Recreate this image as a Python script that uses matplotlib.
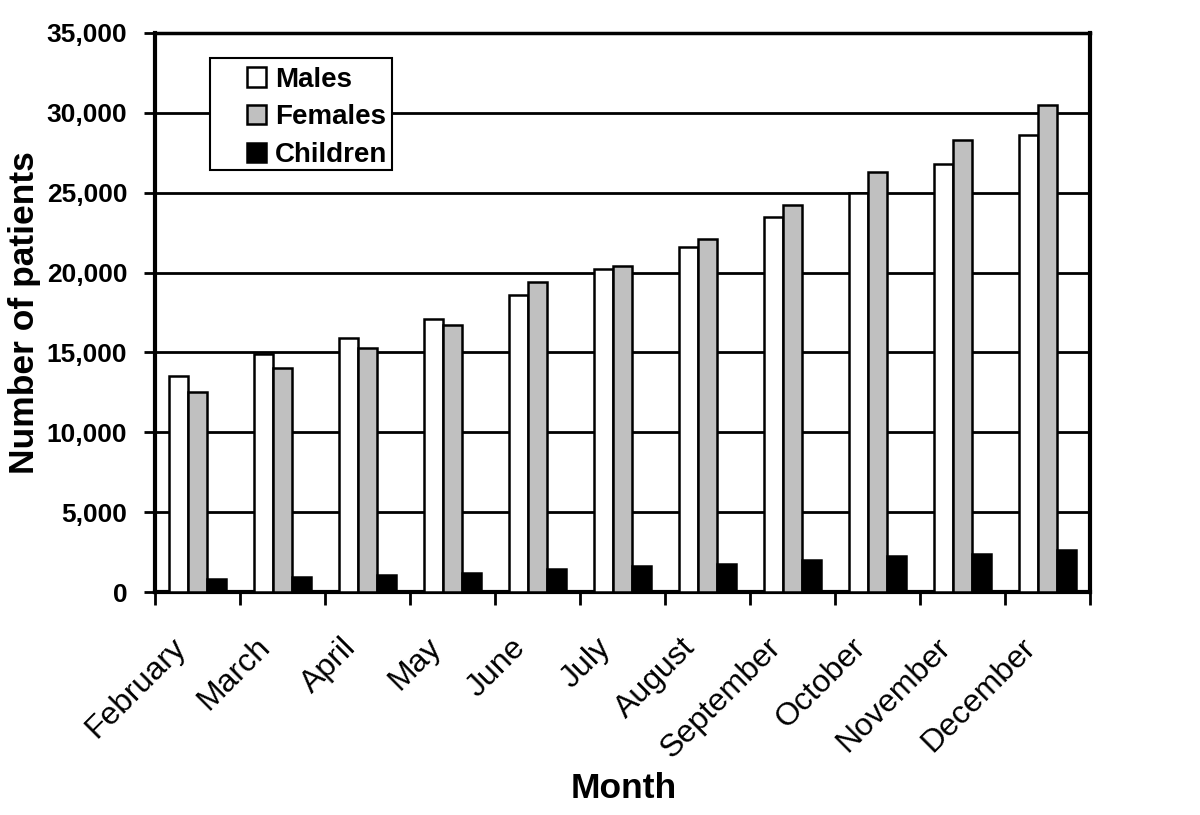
import matplotlib
matplotlib.use("Agg")
import matplotlib.pyplot as plt
import matplotlib.transforms as mtransforms
from matplotlib.patches import Rectangle
import numpy as np
from matplotlib.ticker import FuncFormatter, FixedLocator

months = ["February", "March", "April", "May", "June", "July", "August",
          "September", "October", "November", "December"]
males = [13500, 14900, 15900, 17100, 18600, 20200, 21600, 23450, 25000, 26800, 28600]
females = [12500, 14000, 15300, 16700, 19400, 20400, 22100, 24250, 26300, 28300, 30500]
children = [800, 950, 1050, 1200, 1450, 1600, 1750, 2000, 2250, 2400, 2600]
series_names = ["Males", "Females", "Children"]
series_colors = ["white", "#c0c0c0", "black"]

plt.rcParams['font.family'] = ['Liberation Sans', 'DejaVu Sans']

fig = plt.figure(figsize=(12, 8.15), dpi=100)
ax = fig.add_axes([155/1200, 1-592/815, 935/1200, 559/815])

x = np.arange(len(months))
w = 1/4.5
for k, (vals, name, col) in enumerate(zip([males, females, children], series_names, series_colors)):
    ax.bar(x + (k-1)*w, vals, width=w, color=col, edgecolor="black", linewidth=1.8,
           label=name, zorder=3)

ax.set_xlim(-0.5, len(months)-0.5)
ax.set_ylim(0, 35000)
ax.set_yticks(np.arange(0, 35001, 5000))
ax.yaxis.set_major_formatter(FuncFormatter(lambda v, p: f"{int(v):,}"))
ax.grid(axis='y', color='black', linewidth=2, zorder=0)
ax.set_axisbelow(True)

ax.set_xticks(x)
ax.set_xticklabels(months, fontsize=23)
ax.tick_params(axis='x', which='major', length=0, pad=29)
offset = mtransforms.ScaledTranslation(-27/100, 0, fig.dpi_scale_trans)
for t in ax.get_xticklabels():
    t.set_rotation(45)
    t.set_ha('right')
    t.set_va('top')
    t.set_rotation_mode('anchor')
    t.set_transform(t.get_transform() + offset)
ax.xaxis.set_minor_locator(FixedLocator(np.arange(-0.5, len(months), 1.0)))
ax.tick_params(axis='x', which='minor', length=9, width=2, direction='out')
ax.tick_params(axis='y', length=8, width=2, direction='out', labelsize=19, pad=12)
for t in ax.get_yticklabels():
    t.set_fontweight('bold')

for s in ['left', 'bottom', 'right']:
    ax.spines[s].set_linewidth(3)
ax.spines['top'].set_linewidth(2.5)

ax.set_ylabel("Number of patients", fontsize=25.5, fontweight='bold')
ax.yaxis.set_label_coords(-0.122, 0.5)
ax.set_xlabel("Month", fontsize=25.5, fontweight='bold')
ax.xaxis.set_label_coords(0.5016, -0.322)
ax.xaxis.label.set_va('top')

# legend frame
ax.add_patch(Rectangle((0.0588, 0.7549), 0.2535-0.0588, 0.9553-0.7549, transform=ax.transAxes,
                       facecolor='white', edgecolor='black', linewidth=1.5, zorder=4))
leg = ax.legend(loc='upper left', bbox_to_anchor=(0.0984, 0.9396), frameon=False,
                prop={'size': 20, 'weight': 'bold'},
                handlelength=0.7, handleheight=0.7, handletextpad=0.3, borderpad=0,
                labelspacing=0.42, borderaxespad=0)
leg.set_zorder(5)

fig.savefig("out.png", dpi=100, facecolor='white')
